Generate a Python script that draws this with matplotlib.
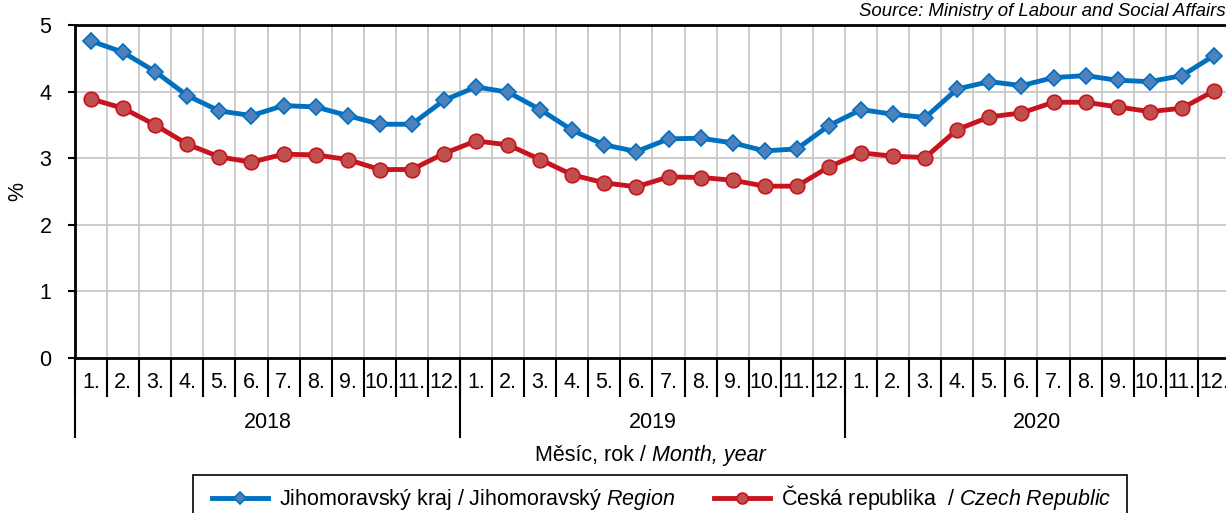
import matplotlib
matplotlib.use("Agg")
import matplotlib.pyplot as plt
from matplotlib.patches import Rectangle
import numpy as np

plt.rcParams['font.family'] = ['Liberation Sans', 'DejaVu Sans']
plt.rcParams['mathtext.fontset'] = 'custom'
plt.rcParams['mathtext.rm'] = 'Liberation Sans'
plt.rcParams['mathtext.it'] = 'Liberation Sans:italic'

years = ['2018', '2019', '2020']
months = ['1.', '2.', '3.', '4.', '5.', '6.', '7.', '8.', '9.', '10.', '11.', '12.']

jmk = [4.76, 4.59, 4.30, 3.94, 3.71, 3.64, 3.79, 3.77, 3.64, 3.51, 3.51, 3.87,
       4.07, 3.99, 3.73, 3.42, 3.20, 3.10, 3.29, 3.30, 3.23, 3.11, 3.14, 3.49,
       3.73, 3.66, 3.61, 4.04, 4.15, 4.09, 4.21, 4.24, 4.17, 4.15, 4.24, 4.54]
cr = [3.89, 3.75, 3.50, 3.21, 3.02, 2.94, 3.06, 3.05, 2.98, 2.83, 2.83, 3.07,
      3.26, 3.20, 2.98, 2.75, 2.63, 2.57, 2.72, 2.71, 2.67, 2.58, 2.58, 2.87,
      3.08, 3.03, 3.01, 3.43, 3.62, 3.68, 3.84, 3.84, 3.77, 3.70, 3.75, 4.01]

FS = 15.5
W, H = 1226, 513
fig = plt.figure(figsize=(W / 100, H / 100), dpi=100)
ax = fig.add_axes([75 / W, 1 - 358 / H, (1230 - 75) / W, (358 - 25) / H])

x = np.arange(len(jmk))
l1, = ax.plot(x, jmk, color='#0070C0', lw=3.5, marker='D', ms=8.5,
              mfc='#4F81BD', mec='#0070C0', mew=1.2, zorder=3)
l2, = ax.plot(x, cr, color='#C8141E', lw=3.5, marker='o', ms=10.5,
              mfc='#C0504D', mec='#C8141E', mew=1.2, zorder=3)

ax.set_xlim(-0.5, len(jmk) - 0.5)
ax.set_ylim(0, 5)
ax.set_yticks(range(0, 6))
ax.tick_params(axis='y', labelsize=FS, length=5, width=1.5, pad=12)
ax.set_ylabel('%', fontsize=FS)
ax.yaxis.set_label_coords(-47 / 1155, 0.5)

# month cell boundaries as minor ticks, month labels as major ticks
ax.set_xticks(x)
ax.set_xticklabels(months * len(years), fontsize=FS)
ax.tick_params(axis='x', which='major', length=0, pad=10)
ax.set_xticks(np.arange(-0.5, len(jmk), 1), minor=True)
ax.tick_params(axis='x', which='minor', length=28, width=1.5, direction='out')

ax.grid(True, which='minor', axis='x', color='#C8C8C8', lw=1.3)
ax.grid(True, which='major', axis='y', color='#C8C8C8', lw=1.3)
ax.grid(False, which='major', axis='x')
ax.set_axisbelow(True)

for s in ['left', 'top', 'bottom']:
    ax.spines[s].set_linewidth(2)
ax.spines['right'].set_visible(False)

# year separators and labels
trans = ax.get_xaxis_transform()
h = 79 / 333
for i, yr in enumerate(years):
    ax.plot([i * 12 - 0.5] * 2, [0, -h], transform=trans, color='black',
            lw=1.5, clip_on=False)
    ax.text(i * 12 + 5.5, -64 / 333, yr, transform=trans, ha='center',
            va='center', fontsize=FS)

# x axis title: regular + italic part
t1 = fig.text(535 / W, 1 - 456 / H, 'Měsíc, rok / ', ha='left', va='center',
              fontsize=FS)
ax.annotate('Month, year', xy=(1, 0), xycoords=t1, ha='left', va='bottom',
            fontsize=FS, style='italic', annotation_clip=False)

fig.text(1226 / W, 1 - 12 / H, 'Source: Ministry of Labour and Social Affairs',
         ha='right', va='center', fontsize=13.4, style='italic')

fig.legend([l1, l2],
           [r'Jihomoravský kraj / Jihomoravský $\mathit{Region}$',
            r'Česká republika  / $\mathit{Czech}$ $\mathit{Republic}$'],
           loc='center', bbox_to_anchor=(662 / W, 1 - 498 / H),
           ncol=2, fontsize=FS, frameon=False,
           handlelength=2.6, handletextpad=0.5,
           columnspacing=1.8, borderpad=0.5, markerscale=0.75)
fig.patches.append(Rectangle((193 / W, -10 / H), (1127 - 193) / W, (513 - 475 + 10) / H,
                             transform=fig.transFigure, fill=False,
                             edgecolor='black', lw=1.2))

plt.savefig('out.png', dpi=100)
plt.close()
